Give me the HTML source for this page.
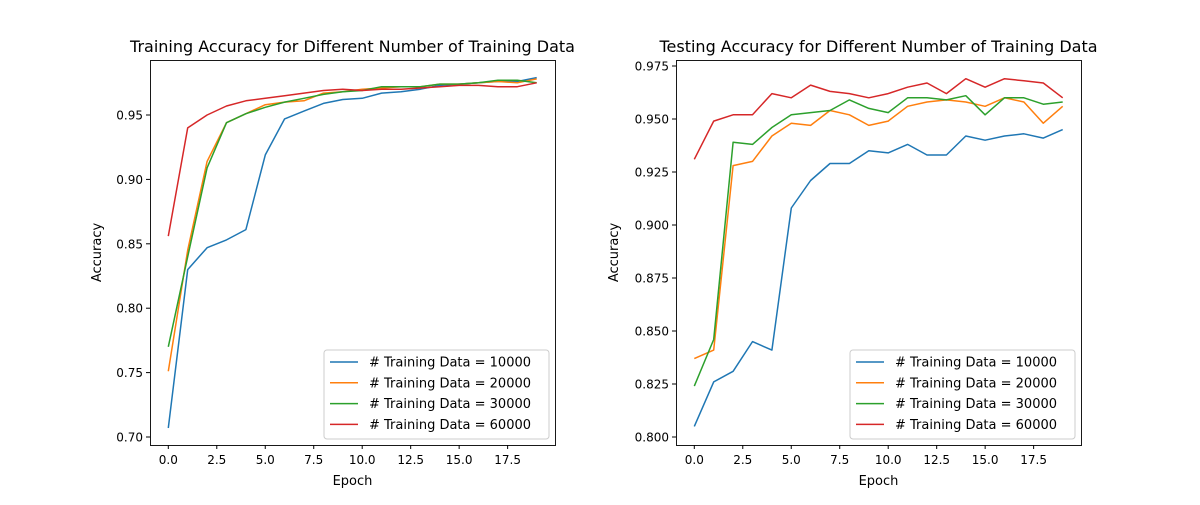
<!DOCTYPE html>
<html><head><meta charset="utf-8"><style>
body{margin:0;background:#fff;font-family:"Liberation Sans","DejaVu Sans",sans-serif}
svg text{font-family:"DejaVu Sans","Liberation Sans",sans-serif;fill:#000}
</style></head><body>
<svg id="c" width="1200" height="500" viewBox="0 0 1200 500" xmlns="http://www.w3.org/2000/svg"></svg>
<script>
const epochs=[0,1,2,3,4,5,6,7,8,9,10,11,12,13,14,15,16,17,18,19];
const seriesLabels=["# Training Data = 10000","# Training Data = 20000","# Training Data = 30000","# Training Data = 60000"];
const trainA=[0.707,0.830,0.847,0.853,0.861,0.919,0.947,0.953,0.959,0.962,0.963,0.967,0.968,0.970,0.973,0.974,0.975,0.976,0.976,0.979];
const trainB=[0.751,0.845,0.914,0.944,0.951,0.958,0.960,0.961,0.967,0.968,0.970,0.971,0.972,0.972,0.974,0.974,0.975,0.976,0.975,0.978];
const trainC=[0.770,0.840,0.909,0.944,0.951,0.956,0.960,0.963,0.966,0.968,0.969,0.972,0.972,0.972,0.974,0.974,0.975,0.977,0.977,0.975];
const trainD=[0.856,0.940,0.950,0.957,0.961,0.963,0.965,0.967,0.969,0.970,0.969,0.970,0.970,0.971,0.972,0.973,0.973,0.972,0.972,0.975];
const testA=[0.805,0.826,0.831,0.845,0.841,0.908,0.921,0.929,0.929,0.935,0.934,0.938,0.933,0.933,0.942,0.940,0.942,0.943,0.941,0.945];
const testB=[0.837,0.841,0.928,0.930,0.942,0.948,0.947,0.954,0.952,0.947,0.949,0.956,0.958,0.959,0.958,0.956,0.960,0.958,0.948,0.956];
const testC=[0.824,0.846,0.939,0.938,0.946,0.952,0.953,0.954,0.959,0.955,0.953,0.960,0.960,0.959,0.961,0.952,0.960,0.960,0.957,0.958];
const testD=[0.931,0.949,0.952,0.952,0.962,0.960,0.966,0.963,0.962,0.960,0.962,0.965,0.967,0.962,0.969,0.965,0.969,0.968,0.967,0.960];
const xTicks=[0,2.5,5,7.5,10,12.5,15,17.5];
const yTicksTrain=[0.70,0.75,0.80,0.85,0.90,0.95];
const yTicksTest=[0.800,0.825,0.850,0.875,0.900,0.925,0.950,0.975];
const colors=["#1f77b4","#ff7f0e","#2ca02c","#d62728"];
const NS="http://www.w3.org/2000/svg";
const svg=document.getElementById('c');
function mk(t,a,p){const e=document.createElementNS(NS,t);for(const k in a)e.setAttribute(k,a[k]);(p||svg).appendChild(e);return e;}
function panel(cfg){
  const g=mk('g',{});
  
  
  const L=cfg.left,T=60,W=405,H=385;
  const xs=v=>cfg.x0+v*cfg.xs;
  const ys=v=>cfg.y0-(v-cfg.v0)*cfg.ys;
  const t=mk('text',{x:L+W/2,y:52,'text-anchor':'middle','font-size':16},g);t.textContent=cfg.title;
  
  cfg.series.forEach((s,i)=>{
    const pts=s.map((v,j)=>xs(epochs[j]).toFixed(1)+','+ys(v).toFixed(1)).join(' ');
    const pl=mk('polyline',{points:pts,fill:'none',stroke:colors[i],'stroke-width':1.5,'stroke-linejoin':'round'},g);
    
    
  });
  mk('rect',{x:L+0.5,y:T+0.5,width:W,height:H,fill:'none',stroke:'#000','stroke-width':0.9},g);
  xTicks.forEach(v=>{const x=xs(v);mk('line',{x1:x,y1:T+H,x2:x,y2:T+H+4,stroke:'#000'},g);
    const tx=mk('text',{x:x,y:T+H+19,'text-anchor':'middle','font-size':12},g);tx.textContent=v.toFixed(1);
    });
  cfg.yt.forEach(v=>{const y=ys(v);mk('line',{x1:L,y1:y,x2:L-4,y2:y,stroke:'#000'},g);
    const tx=mk('text',{x:L-7,y:y+4.5,'text-anchor':'end','font-size':12},g);tx.textContent=v.toFixed(cfg.dec);
    });
  const xl=mk('text',{x:L+W/2,y:485,'text-anchor':'middle','font-size':13},g);xl.textContent='Epoch';
  
  const yl=mk('text',{x:0,y:0,'text-anchor':'middle','font-size':13,transform:`translate(${cfg.ylx},${T+H/2}) rotate(-90)`},g);yl.textContent='Accuracy';
  
  const lg=mk('g',{},g);
  
  const lx=L+W-231;
  mk('rect',{x:lx,y:350,width:225,height:89,rx:3,fill:'#fff','fill-opacity':0.8,stroke:'#ccc'},lg);
  seriesLabels.forEach((s,i)=>{const y=362+i*20.8;
    mk('line',{x1:lx+6,y1:y,x2:lx+34,y2:y,stroke:colors[i],'stroke-width':1.5},lg);
    const tx=mk('text',{x:lx+45,y:y+4.5,'font-size':13},lg);tx.textContent=s;
    });
}
panel({name:'training-accuracy-panel',left:150,title:'Training Accuracy for Different Number of Training Data',
  x0:168.3,xs:19.39,y0:437,v0:0.70,ys:1288,yt:yTicksTrain,dec:2,ylx:101,series:[trainA,trainB,trainC,trainD]});
panel({name:'testing-accuracy-panel',left:676,title:'Testing Accuracy for Different Number of Training Data',
  x0:694.3,xs:19.39,y0:437,v0:0.800,ys:2120,yt:yTicksTest,dec:3,ylx:618,series:[testA,testB,testC,testD]});
</script>
</body></html>
